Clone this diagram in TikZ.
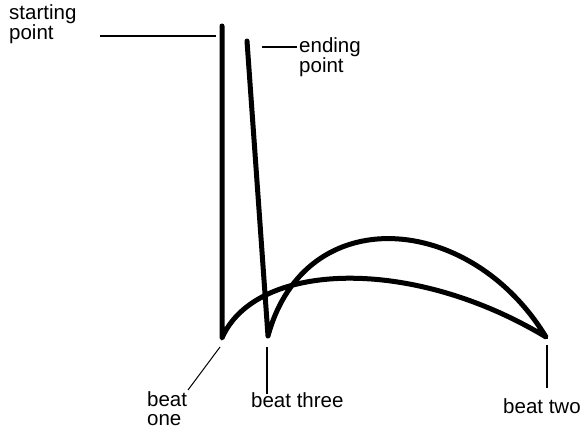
\documentclass[tikz,border=0pt]{standalone}
\usepackage{fontspec}
\setmainfont{Liberation Sans}
\usetikzlibrary{positioning}

\begin{document}
\begin{tikzpicture}[
  x=1pt,y=-1pt,
  every node/.style={font=\fontsize{20.5}{19}\selectfont,inner sep=0pt,align=left},
  stroke/.style={line width=5pt,line join=round,line cap=round},
  leader/.style={line width=1.5pt},
  thinleader/.style={line width=1pt},
]
\useasboundingbox (0,0) rectangle (586,436);

% conducting pattern
\coordinate (start) at (222,26);
\coordinate (one) at (222,338);
\coordinate (two) at (546,337);
\coordinate (three) at (268,336);
\coordinate (end) at (247,41);
\draw[stroke] (start) -- (one)
  .. controls (255,262) and (410,255) .. (two)
  .. controls (470,212) and (305,200) .. (three) -- (end);

% labels (anchored on the last line)
\node[anchor=base west] (lstart) at (9,40) {starting\\point};
\node[anchor=base west] (lend) at (299,73) {ending\\point};
\node[anchor=base west] (lone) at (147,425) {beat\\one};
\node[anchor=base west] (lthree) at (251,407) {beat three};
\node[anchor=base west] (ltwo) at (503,413) {beat two};

% leader lines
\coordinate (pstart1) at (100,36);
\coordinate (pstart2) at (216,36);
\coordinate (pend1) at (262,47);
\coordinate (pend2) at (297,47);
\coordinate (pone1) at (220,347);
\coordinate (pone2) at (188,390);
\coordinate (pthree1) at (267,347);
\coordinate (pthree2) at (267,394);
\coordinate (ptwo1) at (547,345);
\coordinate (ptwo2) at (547,388);
\draw[leader] (pstart1) -- (pstart2);
\draw[leader] (pend1) -- (pend2);
\draw[thinleader] (pone1) -- (pone2);
\draw[leader] (pthree1) -- (pthree2);
\draw[leader] (ptwo1) -- (ptwo2);

\end{tikzpicture}
\end{document}
